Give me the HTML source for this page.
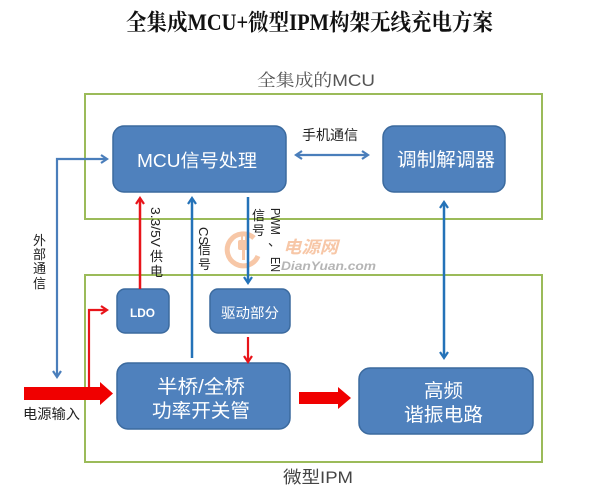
<!DOCTYPE html>
<html><head><meta charset="utf-8"><style>
html,body{margin:0;padding:0;background:#fff;}
svg{display:block;}
.cjk{font-family:"Liberation Sans","Noto Sans CJK SC",sans-serif;}
</style></head><body>
<svg width="600" height="498" viewBox="0 0 600 498" xmlns="http://www.w3.org/2000/svg">
<defs>
<marker id="ab" markerWidth="10" markerHeight="10" refX="7" refY="5" orient="auto" markerUnits="userSpaceOnUse">
<path d="M1,1 L7,5 L1,9" fill="none" stroke="#2472b8" stroke-width="2.2"/>
</marker>
<marker id="ab2" markerWidth="10" markerHeight="10" refX="7" refY="5" orient="auto-start-reverse" markerUnits="userSpaceOnUse">
<path d="M1,1 L7,5 L1,9" fill="none" stroke="#4a7ebb" stroke-width="2.2"/>
</marker>
<marker id="ab3" markerWidth="10" markerHeight="10" refX="7" refY="5" orient="auto-start-reverse" markerUnits="userSpaceOnUse">
<path d="M1,1 L7,5 L1,9" fill="none" stroke="#2472b8" stroke-width="2.2"/>
</marker>
<marker id="ar" markerWidth="10" markerHeight="10" refX="7" refY="5" orient="auto" markerUnits="userSpaceOnUse">
<path d="M1,1 L7,5 L1,9" fill="none" stroke="#e8141a" stroke-width="2.2"/>
</marker>
</defs>

<!-- title -->
<text x="126" y="30" font-family="Liberation Serif,'Noto Serif CJK SC',serif" font-weight="bold" font-size="23" fill="#111" textLength="367" lengthAdjust="spacingAndGlyphs">全集成MCU+微型IPM构架无线充电方案</text>
<text x="257" y="86" font-family="Liberation Sans,'Noto Serif CJK SC',serif" font-size="17" fill="#555" textLength="118" lengthAdjust="spacingAndGlyphs">全集成的MCU</text>

<!-- green frames -->
<rect x="85" y="94" width="457" height="125" fill="none" stroke="#9bbb59" stroke-width="2"/>
<rect x="85" y="275" width="457" height="187" fill="none" stroke="#9bbb59" stroke-width="2"/>

<!-- watermark -->
<g opacity="0.55">
<path d="M254,238 A16,16 0 1 0 258,256" fill="none" stroke="#f29a60" stroke-width="5"/>
<rect x="238" y="240" width="11" height="10" rx="2" fill="#f29a60"/>
<rect x="241" y="236" width="2" height="5" fill="#f29a60"/>
<rect x="245" y="236" width="2" height="5" fill="#f29a60"/>
<rect x="242" y="250" width="3" height="10" fill="#f29a60"/>
<text x="283" y="253" font-family="Liberation Sans,'Noto Sans CJK SC',sans-serif" font-weight="bold" font-style="italic" font-size="17" fill="#f29a60" textLength="55" lengthAdjust="spacingAndGlyphs">电源网</text>
</g>
<text x="281" y="270" font-family="Liberation Sans,sans-serif" font-weight="bold" font-style="italic" font-size="12" fill="#b5b5b5" textLength="95" lengthAdjust="spacingAndGlyphs">DianYuan.com</text>

<!-- boxes -->
<rect x="113" y="126" width="173" height="66" rx="11" fill="#4f81bd" stroke="#3b6a9e" stroke-width="1.5"/>
<rect x="383" y="126" width="122" height="66" rx="11" fill="#4f81bd" stroke="#3b6a9e" stroke-width="1.5"/>
<rect x="117" y="289" width="52" height="44" rx="8" fill="#4f81bd" stroke="#3b6a9e" stroke-width="1.5"/>
<rect x="210" y="289" width="80" height="44" rx="8" fill="#4f81bd" stroke="#3b6a9e" stroke-width="1.5"/>
<rect x="117" y="363" width="173" height="66" rx="11" fill="#4f81bd" stroke="#3b6a9e" stroke-width="1.5"/>
<rect x="359" y="368" width="174" height="66" rx="11" fill="#4f81bd" stroke="#3b6a9e" stroke-width="1.5"/>

<!-- box text -->
<g font-family="Liberation Sans,'Noto Sans CJK SC',sans-serif" fill="#fff">
<text x="137" y="167" font-size="18" textLength="120" lengthAdjust="spacingAndGlyphs">MCU信号处理</text>
<text x="397" y="166" font-size="19" textLength="98" lengthAdjust="spacingAndGlyphs">调制解调器</text>
<text x="130" y="317" font-size="12" font-weight="bold" textLength="25" lengthAdjust="spacingAndGlyphs">LDO</text>
<text x="221" y="318" font-size="14" textLength="58" lengthAdjust="spacingAndGlyphs">驱动部分</text>
<text x="157" y="393" font-size="19" textLength="88" lengthAdjust="spacingAndGlyphs">半桥/全桥</text>
<text x="152" y="417" font-size="19" textLength="98" lengthAdjust="spacingAndGlyphs">功率开关管</text>
<text x="424" y="397" font-size="19" textLength="39" lengthAdjust="spacingAndGlyphs">高频</text>
<text x="404" y="421" font-size="19" textLength="79" lengthAdjust="spacingAndGlyphs">谐振电路</text>
</g>

<!-- labels -->
<g font-family="Liberation Sans,'Noto Sans CJK SC',sans-serif" fill="#222">
<text x="302" y="140" font-size="14" textLength="56" lengthAdjust="spacingAndGlyphs">手机通信</text>
<text x="23" y="419" font-size="14" textLength="57" lengthAdjust="spacingAndGlyphs">电源输入</text>
<text x="33" y="245" font-size="13">外</text>
<text x="33" y="259" font-size="13">部</text>
<text x="33" y="273" font-size="13">通</text>
<text x="33" y="288" font-size="13">信</text>
<!-- 3.3/5V供电 -->
<text transform="translate(151,207) rotate(90)" font-size="13" textLength="40" lengthAdjust="spacingAndGlyphs">3.3/5V</text>
<text x="150" y="261" font-size="13">供</text>
<text x="150" y="276" font-size="13">电</text>
<!-- CS信号 -->
<text transform="translate(199,227) rotate(90)" font-size="13">CS</text>
<text x="198" y="254" font-size="13">信</text>
<text x="198" y="269" font-size="13">号</text>
<!-- PWM、EN 信号 -->
<text transform="translate(271,208) rotate(90)" font-size="13" textLength="27" lengthAdjust="spacingAndGlyphs">PWM</text>
<text x="268" y="246" font-size="13">、</text>
<text transform="translate(271,257) rotate(90)" font-size="13" textLength="15" lengthAdjust="spacingAndGlyphs">EN</text>
<text x="252" y="220" font-size="13">信</text>
<text x="252" y="235" font-size="13">号</text>
</g>
<text x="283" y="483" font-family="Liberation Sans,'Noto Sans CJK SC',sans-serif" font-size="17" fill="#444" textLength="70" lengthAdjust="spacingAndGlyphs">微型IPM</text>

<!-- connectors -->
<polyline points="107,159 57,159 57,377" fill="none" stroke="#4a7ebb" stroke-width="2.2" marker-start="url(#ab2)" marker-end="url(#ab2)"/>
<line x1="296" y1="155" x2="368" y2="155" stroke="#4a7ebb" stroke-width="2.2" marker-start="url(#ab2)" marker-end="url(#ab2)"/>
<line x1="140" y1="289" x2="140" y2="198" stroke="#e8141a" stroke-width="2.5" marker-end="url(#ar)"/>
<line x1="192" y1="358" x2="192" y2="198" stroke="#2472b8" stroke-width="2.5" marker-end="url(#ab)"/>
<line x1="248" y1="197" x2="248" y2="283" stroke="#2472b8" stroke-width="2.5" marker-end="url(#ab)"/>
<line x1="444" y1="202" x2="444" y2="358" stroke="#2472b8" stroke-width="2.5" marker-start="url(#ab3)" marker-end="url(#ab3)"/>
<line x1="248" y1="337" x2="248" y2="362" stroke="#e8141a" stroke-width="2.2" marker-end="url(#ar)"/>
<polyline points="89,392 89,310 107,310" fill="none" stroke="#e8141a" stroke-width="2.2" marker-end="url(#ar)"/>

<!-- big red arrows -->
<polygon points="24,387 100,387 100,382 113,393.5 100,405 100,400 24,400" fill="#f00000"/>
<polygon points="299,392 338,392 338,387 351,398 338,409 338,404 299,404" fill="#f00000"/>
</svg>
</body></html>
